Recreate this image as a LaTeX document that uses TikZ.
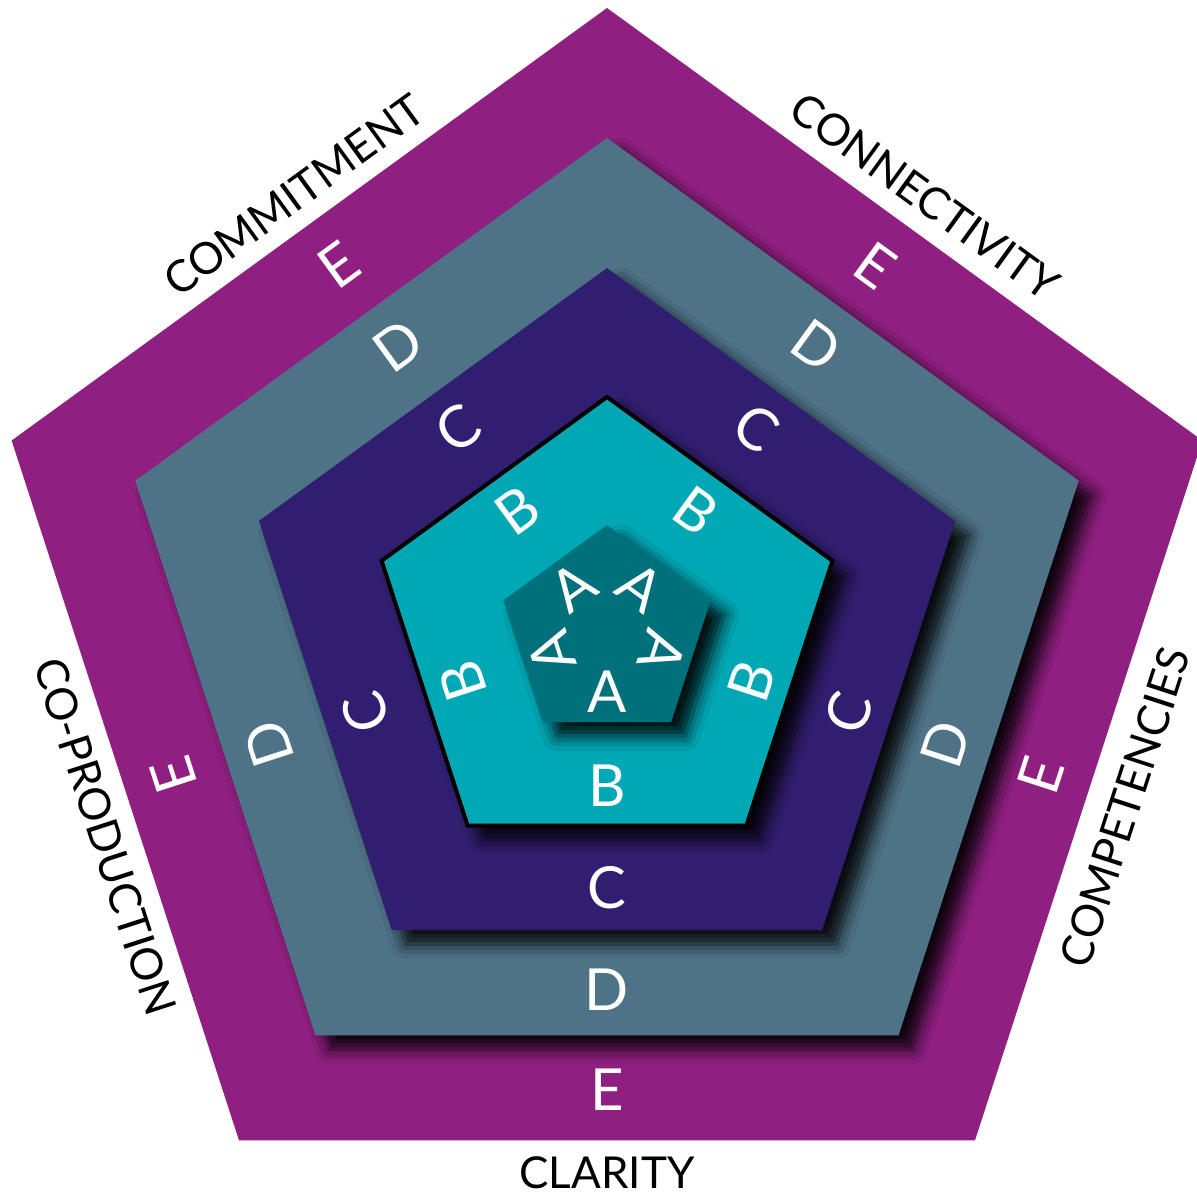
\documentclass[tikz,border=0pt]{standalone}
\usepackage{fontspec}
\setmainfont{Lato}
\usepackage{tikz}
\usetikzlibrary{calc,shadows.blur}

\definecolor{ringE}{HTML}{8F1F80}
\definecolor{ringD}{HTML}{4E7387}
\definecolor{ringC}{HTML}{321E70}
\definecolor{ringB}{HTML}{00A8B5}
\definecolor{ringA}{HTML}{00707A}

\begin{document}
\begin{tikzpicture}[
  x=0.01cm, y=0.01cm,
  grade/.style={text=white, inner sep=0pt, font=\fontsize{16.5}{16.5}\selectfont},
  side/.style={text=black, inner sep=0pt, font=\fontsize{12.5}{12.5}\selectfont},
  deep/.style={blur shadow={shadow xshift=4pt, shadow yshift=-4pt, shadow blur radius=4pt, shadow opacity=90}}
]
\useasboundingbox (0,0) rectangle (1197,1196);
\coordinate (mid) at (607,562);

% nested pentagons, outside in
\fill[ringE] (mid) +(90:626) -- +(162:626) -- +(234:626) -- +(306:626) -- +(18:626) -- cycle;
\fill[ringD, deep] (mid) +(90:496) -- +(162:496) -- +(234:496) -- +(306:496) -- +(18:496) -- cycle;
\fill[ringC, deep] (mid) +(90:366) -- +(162:366) -- +(234:366) -- +(306:366) -- +(18:366) -- cycle;
\filldraw[fill=ringB, draw=black, line width=0.4mm, deep] (mid) +(90:237) -- +(162:237) -- +(234:237) -- +(306:237) -- +(18:237) -- cycle;
\fill[ringA, deep] (mid) +(90:109) -- +(162:109) -- +(234:109) -- +(306:109) -- +(18:109) -- cycle;

% grade letters on each side
\foreach \ang/\rot [count=\i] in {-90/0, -18/72, 54/-36, 126/36, 198/108} {
  \node[grade, rotate=\rot] (e\i) at ([shift={(\ang:456)}]mid) {E};
  \node[grade, rotate=\rot] (d\i) at ([shift={(\ang:356)}]mid) {D};
  \node[grade, rotate=\rot] (c\i) at ([shift={(\ang:254)}]mid) {C};
  \node[grade, rotate=\rot] (b\i) at ([shift={(\ang:152)}]mid) {B};
}
\foreach \ang/\rot [count=\i] in {-90/0, -18/-108, 54/-36, 126/36, 198/108}
  \node[grade, rotate=\rot] (a\i) at ([shift={(\ang:58)}]mid) {A};

% side names
\node[side] (clarity) at ([shift={(-90:539)}]mid) {CLARITY};
\node[side, rotate=72] (competencies) at ([shift={(-18.5:546)}]mid) {COMPETENCIES};
\node[side, rotate=-36] (connectivity) at ([shift={(54:541)}]mid) {CONNECTIVITY};
\node[side, rotate=36] (commitment) at ([shift={(125.5:539)}]mid) {COMMITMENT};
\node[side, rotate=-72] (coproduction) at ([shift={(202:541)}]mid) {CO-PRODUCTION};
\end{tikzpicture}
\end{document}
